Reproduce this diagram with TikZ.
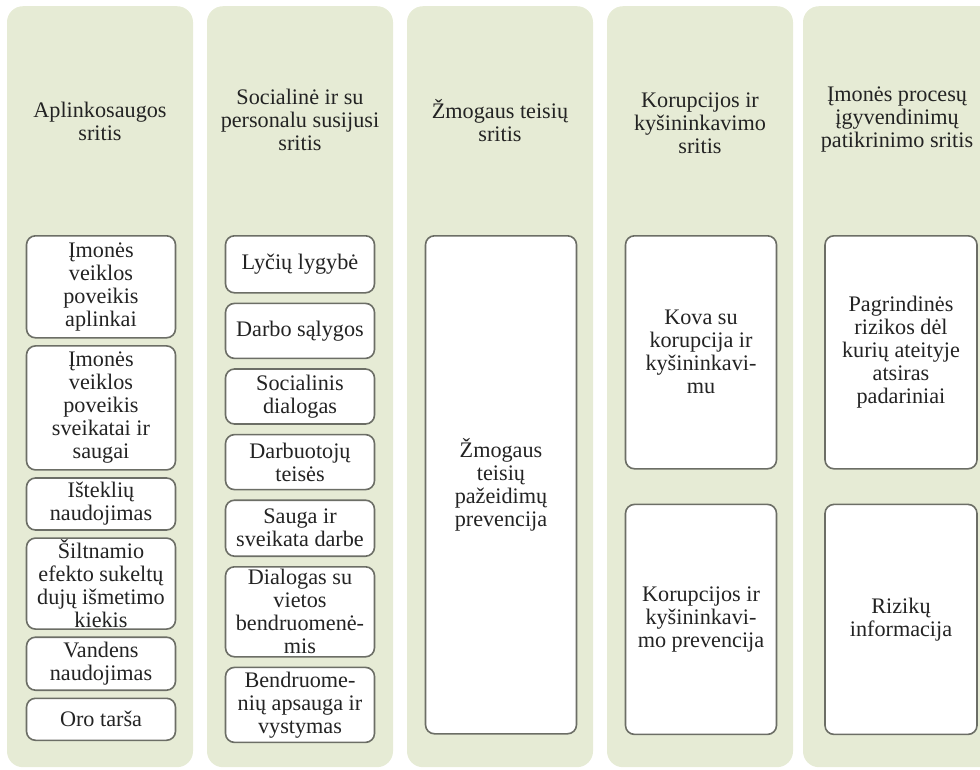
\documentclass[tikz,border=0pt]{standalone}
\usepackage{fontspec}
\setmainfont{Liberation Serif}
\usetikzlibrary{positioning}
\definecolor{colbg}{RGB}{230,235,213}
\definecolor{boxline}{RGB}{108,110,102}
\definecolor{txt}{RGB}{35,35,35}

\begin{document}
\begin{tikzpicture}[x=1pt, y=-1pt, text=txt, font=\fontsize{22.2}{23}\selectfont,
    column/.style={fill=colbg, rounded corners=16pt, minimum width=186pt, minimum height=761pt, anchor=north, inner sep=0pt},
    head/.style={align=center},
    item/.style={draw=boxline, line width=1.6pt, fill=white, rounded corners=9pt, align=center, anchor=north, inner sep=0pt, minimum width=149pt},
    node distance=6.5pt]
    \useasboundingbox (0,0) rectangle (980,769);
    \clip (0,0) rectangle (980,769);

    %define the columns
    \node[column] (c1) at (100,6) {};
    \node[column] (c2) at (300,6) {};
    \node[column] (c3) at (500,6) {};
    \node[column] (c4) at (700,6) {};
    \node[column, minimum width=196pt] (c5) at (901,6) {};

    %define the headings
    \node[head] (h1) at (100,121) {Aplinkosaugos\\sritis};
    \node[head] (h2) at (300,120) {Socialinė ir su\\personalu susijusi\\sritis};
    \node[head] (h3) at (500,121) {Žmogaus teisių\\sritis};
    \node[head] (h4) at (700,123) {Korupcijos ir\\kyšininkavimo\\sritis};
    \node[head] (h5) at (897,120) {Įmonės procesų\\įgyvendinimų\\patikrinimo sritis};

    %first column
    \node[item, minimum height=102pt] (a1) at (101,235) {Įmonės\\veiklos\\poveikis\\aplinkai};
    \node[item, minimum height=124pt] (a2) [below=of a1] {Įmonės\\veiklos\\poveikis\\sveikatai ir\\saugai};
    \node[item, minimum height=52pt]  (a3) [below=of a2] {Išteklių\\naudojimas};
    \node[item, minimum height=91pt]  (a4) [below=of a3] {Šiltnamio\\efekto sukeltų\\dujų išmetimo\\kiekis};
    \node[item, minimum height=53pt]  (a5) [below=of a4] {Vandens\\naudojimas};
    \node[item, minimum height=42pt]  (a6) [below=of a5] {Oro tarša};

    %second column
    \begin{scope}[node distance=9pt]
    \node[item, minimum height=57pt] (b1) at (300,235) {Lyčių lygybė};
    \node[item, minimum height=55pt] (b2) [below=of b1] {Darbo sąlygos};
    \node[item, minimum height=55pt] (b3) [below=of b2] {Socialinis\\dialogas};
    \node[item, minimum height=55pt] (b4) [below=of b3] {Darbuotojų\\teisės};
    \node[item, minimum height=56pt] (b5) [below=of b4] {Sauga ir\\sveikata darbe};
    \node[item, minimum height=90pt] (b6) [below=of b5] {Dialogas su\\vietos\\bendruomenė-\\mis};
    \node[item, minimum height=75pt] (b7) [below=of b6] {Bendruome-\\nių apsauga ir\\vystymas};
    \end{scope}

    %third column
    \node[item, minimum width=151pt, minimum height=498pt] (d1) at (501,235) {Žmogaus\\teisių\\pažeidimų\\prevencija};

    %fourth and fifth columns
    \begin{scope}[node distance=34pt]
    \node[item, minimum width=151pt, minimum height=233pt] (e1) at (701,235) {Kova su\\korupcija ir\\kyšininkavi-\\mu};
    \node[item, minimum width=151pt, minimum height=230pt] (e2) [below=of e1] {Korupcijos ir\\kyšininkavi-\\mo prevencija};
    \node[item, minimum width=152pt, minimum height=233pt] (f1) at (901,235) {Pagrindinės\\rizikos dėl\\kurių ateityje\\atsiras\\padariniai};
    \node[item, minimum width=152pt, minimum height=230pt] (f2) [below=of f1] {Rizikų\\informacija};
    \end{scope}
\end{tikzpicture}
\end{document}
